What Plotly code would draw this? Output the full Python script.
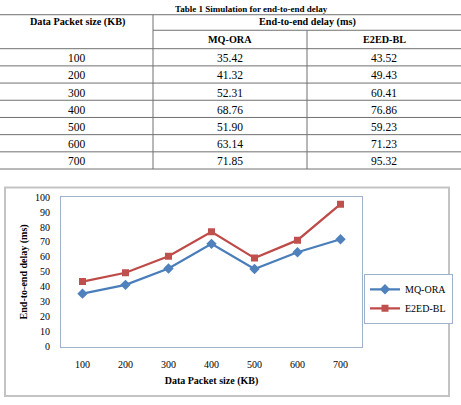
import plotly.graph_objects as go

# ---- data ----
packet_sizes = [100, 200, 300, 400, 500, 600, 700]
mq_ora = [35.42, 41.32, 52.31, 68.76, 51.90, 63.14, 71.85]
e2ed_bl = [43.52, 49.43, 60.41, 76.86, 59.23, 71.23, 95.32]
series_names = ["MQ-ORA", "E2ED-BL"]
y_ticks = list(range(0, 101, 10))
table_title = "Table 1 Simulation for end-to-end delay"
col_header = "Data Packet size (KB)"
group_header = "End-to-end delay (ms)"
x_title = "Data Packet size (KB)"
y_title = "End-to-end delay (ms)"

W, H = 461, 405
FONT = "Liberation Serif, Times New Roman, serif"
AXIS_C = "#9DB3CC"
TABLE_C = "#707070"


def px(x):
    return x / W


def py(y):
    return 1 - y / H


fig = go.Figure()
fig.add_trace(go.Scatter(
    x=packet_sizes, y=mq_ora, name=series_names[0], mode="lines+markers",
    line=dict(color="#4A7EBB", width=2.25),
    marker=dict(symbol="diamond", size=8, color="#4F81BD")))
fig.add_trace(go.Scatter(
    x=packet_sizes, y=e2ed_bl, name=series_names[1], mode="lines+markers",
    line=dict(color="#BE4B48", width=2.25),
    marker=dict(symbol="square", size=7, color="#C0504D")))

shapes = []
annotations = []

# chart outer frame
shapes.append(dict(type="rect", xref="paper", yref="paper",
                   x0=px(5), x1=px(449), y0=py(402), y1=py(187),
                   line=dict(color="#C3C3C3", width=2), layer="below"))

# ---- table ----
col_edges = [153, 307]
top, sub, head_bottom, bottom = 9, 25, 44, 168
n = len(packet_sizes)
row_h = (bottom - head_bottom) / n
row_edges = [head_bottom + i * row_h for i in range(n + 1)]


def hline(y, x0=0, x1=W):
    shapes.append(dict(type="line", xref="paper", yref="paper",
                       x0=px(x0), x1=px(x1), y0=py(y), y1=py(y),
                       line=dict(color=TABLE_C, width=1)))


def vline(x, y0, y1):
    shapes.append(dict(type="line", xref="paper", yref="paper",
                       x0=px(x), x1=px(x), y0=py(y0), y1=py(y1),
                       line=dict(color=TABLE_C, width=1)))


hline(top)
hline(sub, col_edges[0], W)
for y in row_edges:
    hline(y)
vline(col_edges[0], top, bottom)
vline(col_edges[1], sub, bottom)


def text(x, y, s, size=11, bold=False, yanchor="middle"):
    annotations.append(dict(
        xref="paper", yref="paper", x=px(x), y=py(y), showarrow=False,
        text=f"<b>{s}</b>" if bold else s, xanchor="center", yanchor=yanchor,
        font=dict(family=FONT, size=size, color="black")))


text(251, 3.5, table_title, size=9, bold=True, yanchor="middle")
text(77, 16, col_header, size=10.2, bold=True)
text((col_edges[0] + W) / 2, 16, group_header, size=10.2, bold=True)
text((col_edges[0] + col_edges[1]) / 2, 35, series_names[0], size=10.2, bold=True)
text((col_edges[1] + W) / 2, 35, series_names[1], size=10.2, bold=True)
for i in range(n):
    yc = row_edges[i] + row_h / 2 + 1
    text(77, yc, str(packet_sizes[i]), size=11.5)
    text((col_edges[0] + col_edges[1]) / 2, yc, f"{mq_ora[i]:.2f}", size=11.5)
    text((col_edges[1] + W) / 2, yc, f"{e2ed_bl[i]:.2f}", size=11.5)

axis_common = dict(showline=True, linecolor=AXIS_C, linewidth=1, mirror=True,
                   showgrid=False, zeroline=False, ticks="",
                   tickfont=dict(family=FONT, size=10, color="black"))

fig.update_layout(
    width=W, height=H, autosize=False,
    margin=dict(l=0, r=0, t=0, b=0),
    paper_bgcolor="white", plot_bgcolor="white",
    font=dict(family=FONT, size=10, color="black"),
    xaxis=dict(domain=[px(61), px(362)], range=[50, 750],
               tickvals=packet_sizes, ticklabelstandoff=8,
               title=dict(text=f"<b>{x_title}</b>", standoff=8,
                          font=dict(family=FONT, size=10, color="black")),
               **axis_common),
    yaxis=dict(domain=[py(351), py(197)], range=[0, 100],
               tickvals=y_ticks, ticklabelstandoff=8,
               title=dict(text=f"<b>{y_title}</b>", standoff=5,
                          font=dict(family=FONT, size=10, color="black")),
               **axis_common),
    showlegend=True,
    legend=dict(x=px(364), y=py(276), xanchor="left", yanchor="top",
                bordercolor=AXIS_C, borderwidth=1, bgcolor="white",
                font=dict(family=FONT, size=10, color="black"),
                itemwidth=30, tracegroupgap=0),
    shapes=shapes,
    annotations=annotations,
)

fig.write_html("out.html")
